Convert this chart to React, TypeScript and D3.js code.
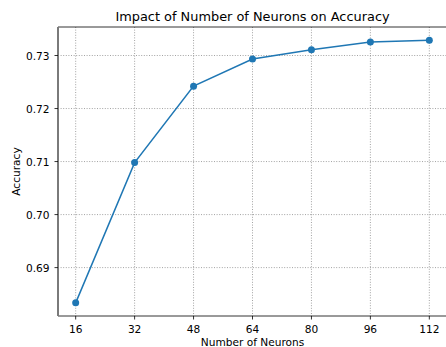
import React from "react";
import * as d3 from "d3";

const neurons = [16, 32, 48, 64, 80, 96, 112];
const accuracy = [0.68335, 0.7098, 0.72422, 0.72935, 0.7311, 0.73255, 0.7329];
const yTicks = [0.69, 0.7, 0.71, 0.72, 0.73];
const xTicks = [16, 32, 48, 64, 80, 96, 112];

const W = 446;
const H = 347;
const left = 58;
const right = 447;
const top = 27;
const bottom = 316;
const FONT = "'DejaVu Sans', 'Bitstream Vera Sans', sans-serif";
const TICK_FS = 10.6;

export default function App() {
  const xPad = (d3.max(neurons)! - d3.min(neurons)!) * 0.05;
  const yPad = (d3.max(accuracy)! - d3.min(accuracy)!) * 0.05;
  const x = d3
    .scaleLinear()
    .domain([d3.min(neurons)! - xPad, d3.max(neurons)! + xPad])
    .range([left, right]);
  const y = d3
    .scaleLinear()
    .domain([d3.min(accuracy)! - yPad, d3.max(accuracy)! + yPad])
    .range([bottom, top]);
  const pts = neurons.map((n, i) => [x(n), y(accuracy[i])] as [number, number]);
  const line = d3.line()(pts) || "";

  return (
    <svg
      width={W}
      height={H}
      style={{ position: "absolute", left: 0, top: 0, background: "#fff", fontFamily: FONT }}
    >
      <rect x={0} y={0} width={W} height={H} fill="#fff" />
      {/* grid */}
      {xTicks.map((t) => (
        <line
          key={"gx" + t}
          x1={x(t)}
          x2={x(t)}
          y1={top}
          y2={bottom}
          stroke="#8c8c8c"
          strokeWidth={0.8}
          strokeDasharray="1,1.6"
        />
      ))}
      {yTicks.map((t) => (
        <line
          key={"gy" + t}
          x1={left}
          x2={right}
          y1={y(t)}
          y2={y(t)}
          stroke="#8c8c8c"
          strokeWidth={0.8}
          strokeDasharray="1,1.6"
        />
      ))}
      {/* data */}
      <path d={line} fill="none" stroke="#1f77b4" strokeWidth={1.5} />
      {pts.map(([px, py], i) => (
        <circle key={i} cx={px} cy={py} r={3.5} fill="#1f77b4" />
      ))}
      {/* spines */}
      <line x1={left} x2={right} y1={top} y2={top} stroke="#000" strokeWidth={0.8} />
      <line x1={left} x2={right} y1={bottom} y2={bottom} stroke="#000" strokeWidth={0.8} />
      <line x1={left} x2={left} y1={top} y2={bottom} stroke="#7a7a7a" strokeWidth={2} />
      {/* x ticks */}
      {xTicks.map((t) => (
        <g key={"xt" + t}>
          <line x1={x(t)} x2={x(t)} y1={bottom} y2={bottom + 3.5} stroke="#000" strokeWidth={0.8} />
          <text x={x(t)} y={bottom + 17} textAnchor="middle" fontSize={TICK_FS} fill="#000">
            {t}
          </text>
        </g>
      ))}
      {/* y ticks */}
      {yTicks.map((t) => (
        <g key={"yt" + t}>
          <line x1={left - 3.5} x2={left} y1={y(t)} y2={y(t)} stroke="#000" strokeWidth={0.8} />
          <text
            x={left - 8.5}
            y={y(t)}
            textAnchor="end"
            dominantBaseline="central"
            fontSize={TICK_FS}
            fill="#000"
          >
            {d3.format(".2f")(t)}
          </text>
        </g>
      ))}
      <text x={(left + right) / 2} y={346} textAnchor="middle" fontSize={TICK_FS} fill="#000">
        Number of Neurons
      </text>
      <text
        transform={`translate(${20},${(top + bottom) / 2}) rotate(-90)`}
        textAnchor="middle"
        fontSize={TICK_FS}
        fill="#000"
      >
        Accuracy
      </text>
      <text x={(left + right) / 2} y={20.5} textAnchor="middle" fontSize={12.9} fill="#000">
        Impact of Number of Neurons on Accuracy
      </text>
    </svg>
  );
}
